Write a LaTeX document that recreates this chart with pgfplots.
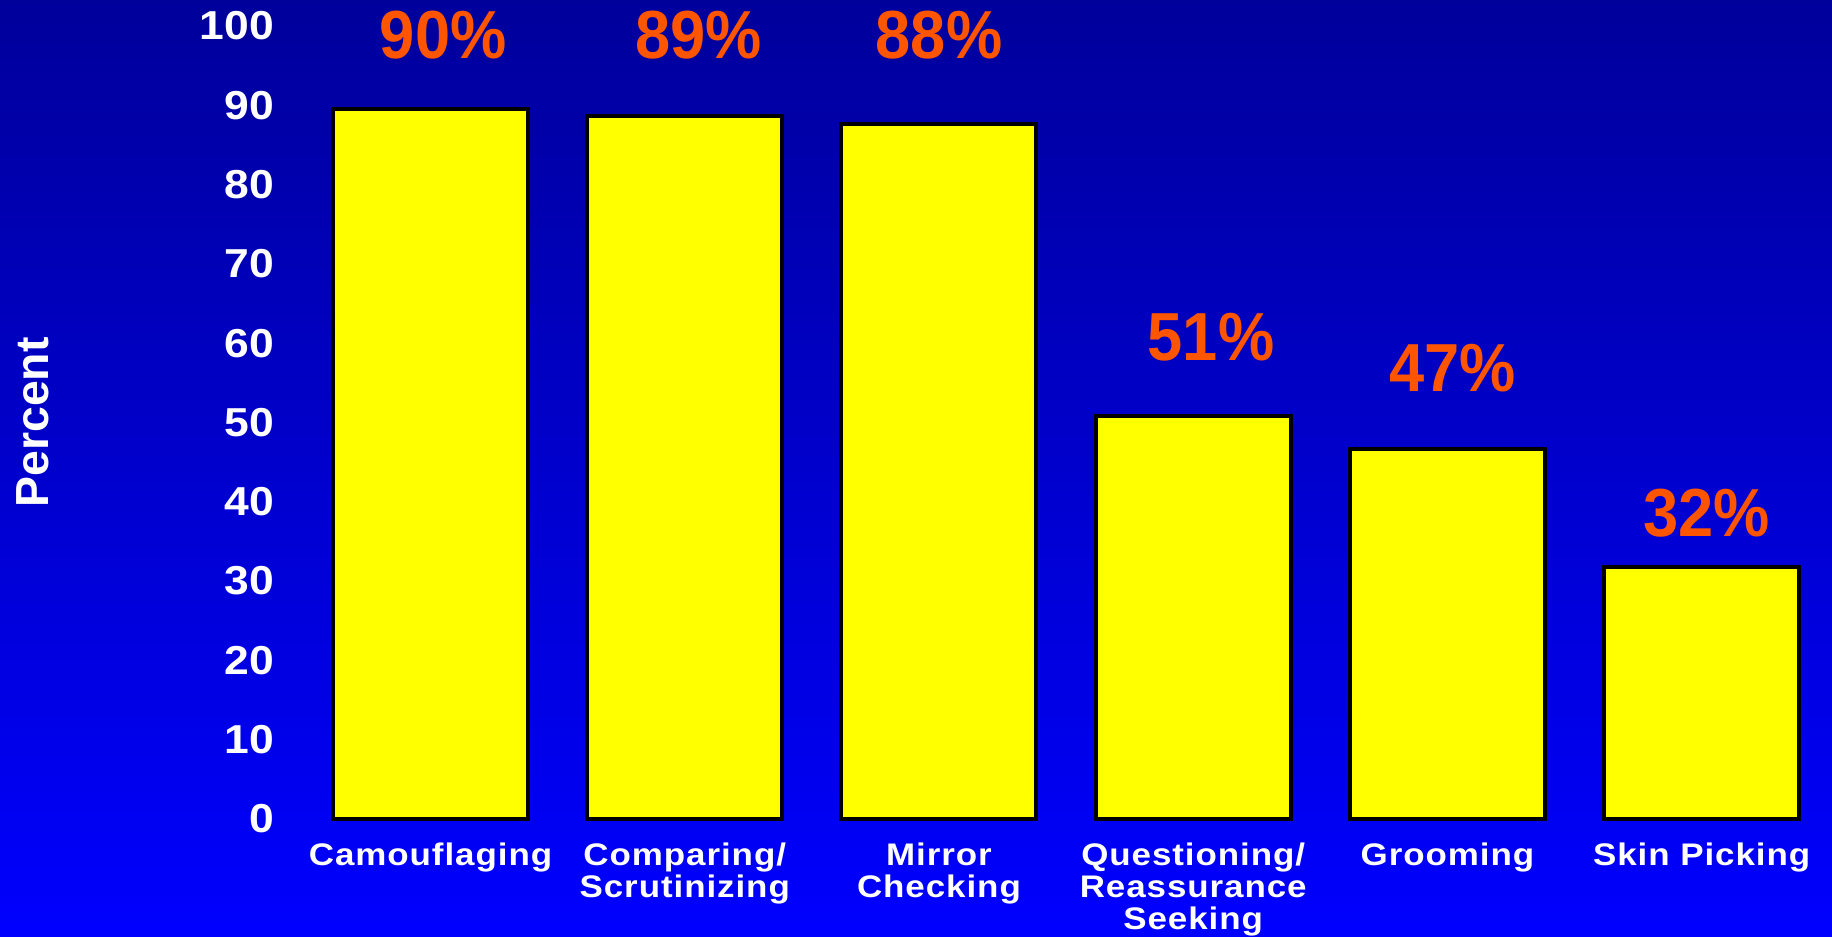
\documentclass[border=0pt]{standalone}
\usepackage{pgfplots}
\pgfplotsset{compat=1.18}
\usepackage{fontspec}
\setmainfont{Liberation Sans}
\newfontfamily\catfont[FakeStretch=1.12, LetterSpace=3]{Liberation Sans}
\newfontfamily\tickfont[FakeStretch=1.1]{Liberation Sans}
\newfontfamily\pctfont[FakeStretch=0.93]{Liberation Sans}
\definecolor{bgtop}{RGB}{0,0,155}
\definecolor{bgmid}{RGB}{0,0,215}
\definecolor{bgbot}{RGB}{0,0,255}
\definecolor{lab}{RGB}{255,85,0}
\definecolor{baryel}{RGB}{255,255,0}
\begin{document}
\begin{tikzpicture}
\shade[top color=bgtop, middle color=bgmid, bottom color=bgbot] (-69.5pt,-29.5pt) rectangle (388.5pt,204.75pt);
\begin{axis}[
  at={(0,0)}, anchor=south west,
  scale only axis, width=387.7pt, height=198.25pt,
  xmin=-0.6, xmax=5.5, ymin=0, ymax=100,
  axis line style={draw=none}, major tick length=0pt,
  ytick={0,10,...,100},
  xtick={0,1,2,3,4,5},
  xticklabels={Camouflaging,{Comparing/\\Scrutinizing},{Mirror\\Checking},{Questioning/\\Reassurance\\Seeking},Grooming,Skin Picking},
  xticklabel style={align=center, inner sep=0pt, anchor=north, yshift=-5.8pt,
    text=white, font=\catfont\bfseries\fontsize{7.8}{8.05}\selectfont},
  yticklabel style={inner sep=0pt, anchor=east, xshift=-0.85pt,
    text=white, font=\tickfont\bfseries\fontsize{10.1}{12}\selectfont},
  /pgf/number format/assume math mode=true,
  ylabel={Percent},
  every axis y label/.style={at={(rel axis cs:0,0.5)}, xshift=-61.3pt, rotate=90, anchor=center,
    text=white, font=\bfseries\fontsize{11.6}{14}\selectfont},
  clip=false,
]
\addplot[ybar, bar width=0.767, fill=baryel, draw=black, line width=1pt]
  coordinates {(0,89.5) (1,88.7) (2,87.6) (3,50.8) (4,46.7) (5,31.8)};
\begin{scope}[every node/.style={text=lab, font=\pctfont\bfseries\fontsize{17}{19}\selectfont, anchor=center, inner sep=0pt}]
\node at (axis cs:0.05,98.9) {90\%};
\node at (axis cs:1.055,98.9) {89\%};
\node at (axis cs:2.0,98.9) {88\%};
\node at (axis cs:3.07,60.7) {51\%};
\node at (axis cs:4.02,56.9) {47\%};
\node at (axis cs:5.02,38.6) {32\%};
\end{scope}
\end{axis}
\end{tikzpicture}
\end{document}
